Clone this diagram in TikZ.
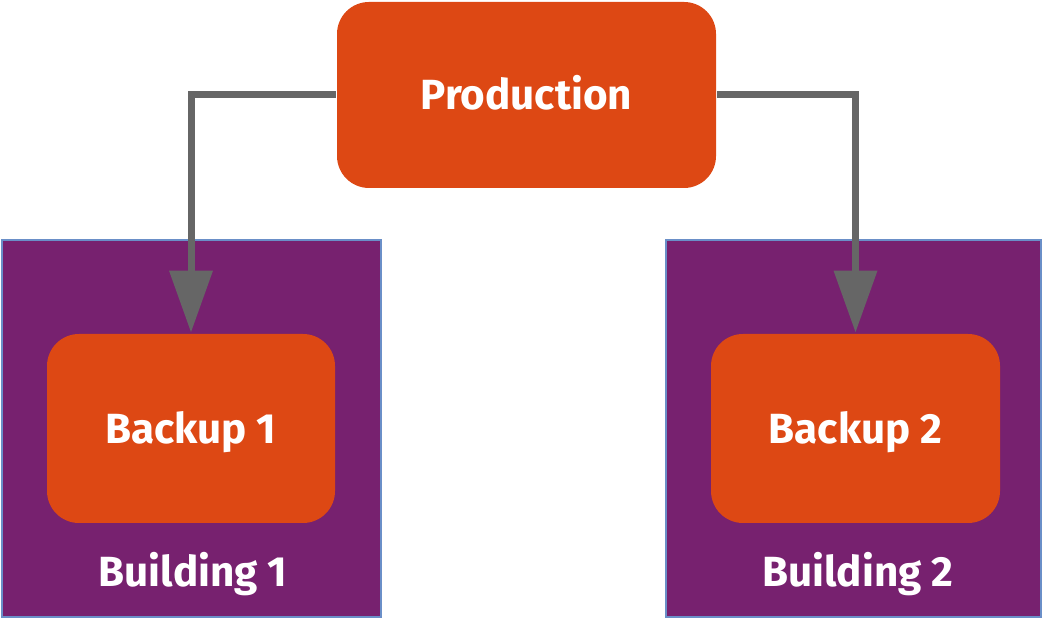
\documentclass[tikz,border=0pt]{standalone}
\usepackage{fontspec}
\setmainfont{Fira Sans}
\usepackage{tikz}
\usetikzlibrary{arrows.meta, positioning}
\definecolor{ubuorange}{HTML}{DD4814}
\definecolor{aubergine}{HTML}{77216F}
\definecolor{arrowgray}{HTML}{666666}
\definecolor{edgeblue}{HTML}{6A8FC8}
\tikzset{>={Triangle[width=0.42cm, length=0.62cm]}}

\begin{document}
\begin{tikzpicture}[thick,
    building/.style={fill=aubergine, draw=edgeblue, line width=0.4pt, minimum width=3.79cm, minimum height=3.77cm, inner sep=0pt},
    server/.style={fill=ubuorange, rounded corners=0.32cm, text=white, font=\fontsize{12}{14}\selectfont\bfseries, inner sep=0pt, text height=8.3pt, text depth=0pt},
    caption/.style={text=white, font=\fontsize{12}{14}\selectfont\bfseries},
    link/.style={draw=arrowgray, line width=0.07cm}]

            \useasboundingbox (0,0) rectangle (10.43,-6.19);

            \node[building] (H1) at (1.915,-4.285) {};
            \node[building, minimum width=3.75cm] (H2) at (8.535,-4.285) {};

            \node[server, minimum width=3.79cm, minimum height=1.86cm] (P) at (5.265,-0.95) {Production};
            \node[server, minimum width=2.88cm, minimum height=1.89cm] (B1) at (1.91,-4.285) {Backup 1};
            \node[server, minimum width=2.89cm, minimum height=1.89cm] (B2) at (8.555,-4.285) {Backup 2};

            \node[caption] (L1) at (1.93,-5.74) {Building 1};
            \node[caption] (L2) at (8.58,-5.74) {Building 2};

            \draw [link, ->] (P.west) -| (B1.north);
            \draw [link, ->] (P.east) -| (B2.north);
            \end{tikzpicture}
\end{document}
